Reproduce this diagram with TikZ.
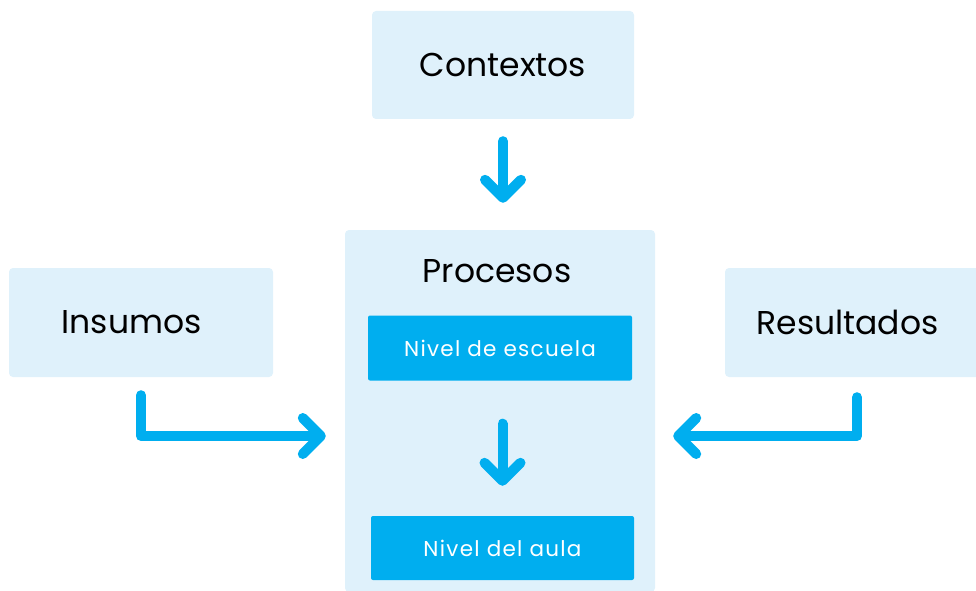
\documentclass[tikz,border=0pt]{standalone}
\usepackage{fontspec}
\setmainfont{Poppins}
\usepackage{xcolor}
\usepackage{tikz}
\usetikzlibrary{arrows.meta}
\definecolor{light_blue}{HTML}{DFF1FB}
\definecolor{cyan_blue}{HTML}{00AEEF}
\tikzset{
    tnode/.style = {align=center, inner sep=0pt, text centered},
    title_node/.style = {tnode, font=\fontsize{33}{40}\selectfont},
    light_box/.style = {tnode, rectangle, rounded corners=4pt, fill=light_blue, minimum width=264pt, minimum height=109pt, font=\fontsize{33}{40}\selectfont},
    side_box/.style = {light_box, label={[title_node, xshift=-9.5pt]center:#1}},
    blue_box/.style = {tnode, rectangle, rounded corners=2pt, fill=cyan_blue, text=white, minimum width=264pt, minimum height=65pt, font=\fontsize{21.5}{26}\selectfont\addfontfeatures{LetterSpace=6}},
    flow_arrow/.style = {draw=cyan_blue, line width=10pt, line cap=round, line join=round, -{Straight Barb[length=18pt, width=36pt, round]}}
}
\begin{document}
\begin{tikzpicture}[x=1pt, y=1pt]
    \clip (0,0) rectangle (976,590);
    \node [light_box, minimum width=262pt, minimum height=108pt] (contextos) at (503,525) {Contextos};
    \node [light_box, minimum width=310pt, minimum height=362pt] (procesos) at (500,179) {};
    \node [title_node, anchor=base] (procesos_title) at (497,308) {Procesos};
    \node [side_box=Insumos] (insumos) at (141,267.5) {};
    \node [side_box=Resultados] (resultados) at (857,267.5) {};
    \node [blue_box] (escuela) at (500,242) {Nivel de escuela};
    \node [blue_box, minimum width=263pt, minimum height=64pt] (aula) at (502.5,42) {Nivel del aula};
    \draw [flow_arrow, shorten <=22pt, shorten >=27pt] (contextos.south) -- (contextos.south |- procesos.north);
    \draw [flow_arrow, shorten <=43pt, shorten >=30pt] (escuela.south -| aula.north) -- (aula.north);
    \draw [flow_arrow, shorten <=18pt, shorten >=19pt] (insumos.south) |- ([yshift=-25pt]procesos.west);
    \draw [flow_arrow, shorten <=20pt, shorten >=18pt] (resultados.south) |- ([yshift=-25pt]procesos.east);
\end{tikzpicture}
\end{document}
